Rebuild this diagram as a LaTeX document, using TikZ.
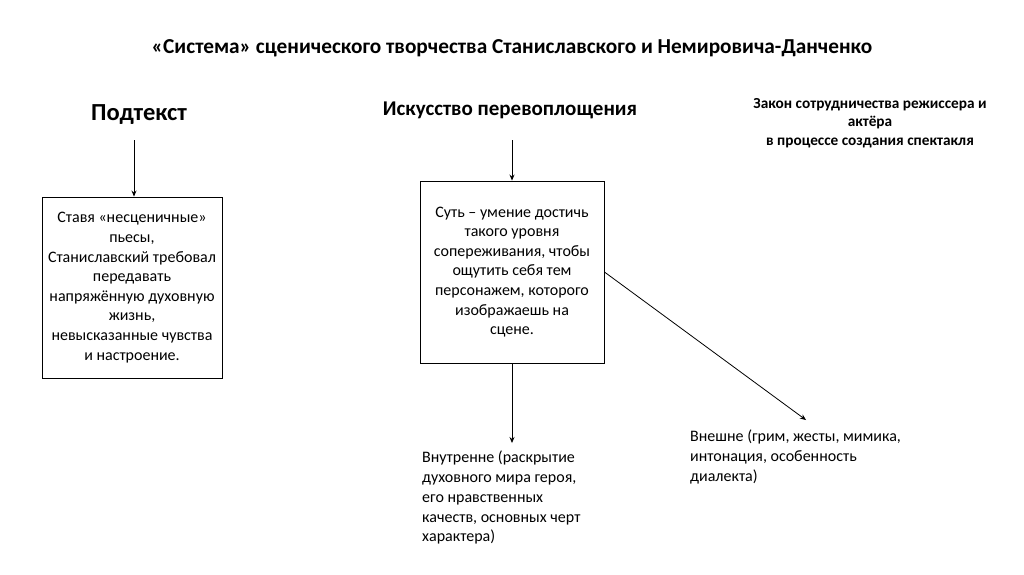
\documentclass[tikz,border=0pt]{standalone}
\usepackage{fontspec}
\setmainfont{Carlito}
\usetikzlibrary{arrows.meta,positioning,calc}
\tikzset{
  head/.style={font=\fontsize{21}{25}\selectfont\bfseries, inner sep=0pt},
  bigbox/.style={rectangle, draw=black, line width=0.9pt, align=center,
    font=\fontsize{16}{19.6}\selectfont, inner sep=2pt},
  note/.style={align=left, font=\fontsize{16}{19.7}\selectfont, inner sep=0pt, anchor=north west},
  tr/.style={-{Stealth[length=6pt, width=5pt]}, draw=black, line width=0.8pt},
}
\begin{document}
\begin{tikzpicture}[x=1pt, y=-1pt]
  \useasboundingbox (0,0) rectangle (1024,574);
  \node[head, font=\fontsize{21.3}{25}\selectfont\bfseries] (title) at (512,48) {«Система» сценического творчества Станиславского и Немировича-Данченко};
  \node[head, font=\fontsize{24.5}{28}\selectfont\bfseries] (sub) at (139,115) {Подтекст};
  \node[head] (art) at (510,110) {Искусство перевоплощения};
  \node[head, align=center, font=\fontsize{15.3}{18.6}\selectfont\bfseries] (law) at (870,123)
    {Закон сотрудничества режиссера и\\актёра\\в процессе создания спектакля};
  \node[bigbox, minimum width=180pt, minimum height=181pt] (subbox) at (132,287.5)
    {Ставя «несценичные»\\пьесы,\\Станиславский требовал\\передавать\\напряжённую духовную\\жизнь,\\невысказанные чувства\\и настроение.};
  \node[bigbox, minimum width=184pt, minimum height=182pt] (artbox) at (512,272)
    {Суть – умение достичь\\такого уровня\\сопереживания, чтобы\\ощутить себя тем\\персонажем, которого\\изображаешь на\\сцене.};
  \node[note] (inner) at (422,451) {Внутренне (раскрытие\\духовного мира героя,\\его нравственных\\качеств, основных черт\\характера)};
  \node[note] (outer) at (690,430) {Внешне (грим, жесты, мимика,\\интонация, особенность\\диалекта)};
  \coordinate (outtip) at (806,420);
  \draw[tr] (134,140) -- (subbox.north -| 134,0);
  \draw[tr] (artbox.north |- 0,140) -- (artbox.north);
  \draw[tr] (artbox.south) -- (artbox.south |- 0,443);
  \draw[tr] (artbox.east) -- (outtip);
\end{tikzpicture}
\end{document}
